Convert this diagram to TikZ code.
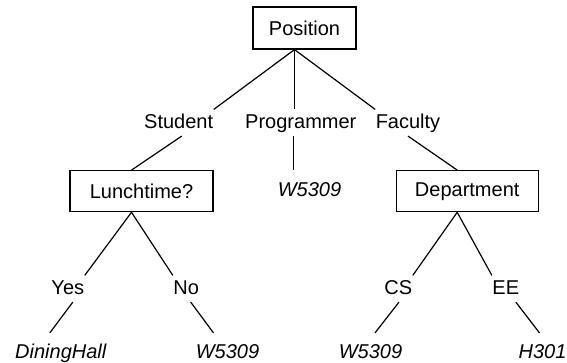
\documentclass[tikz,border=0pt]{standalone}
\usepackage{fontspec}
\setmainfont{Liberation Sans}
\begin{document}
\begin{tikzpicture}[x=1pt,y=-1pt,line width=1.2pt,font=\fontsize{20pt}{24pt}\selectfont,
  testbox/.style={draw,inner sep=0pt},
  branch/.style={anchor=base,inner xsep=0pt,inner ysep=3.5pt,text height=14.5pt,text depth=4pt},
  leaf/.style={branch,inner ysep=10.5pt,font=\fontsize{20pt}{24pt}\selectfont\itshape}]
  \useasboundingbox (0,0) rectangle (567,362);
  \node[testbox,minimum width=103pt,minimum height=42pt] (pos) at (304.5,28) {Position};
  \node[testbox,minimum width=143pt,minimum height=41pt] (lunch) at (141.5,191.2) {Lunchtime?};
  \node[testbox,minimum width=142pt,minimum height=41pt] (dept) at (467.2,191.2) {Department};
  \node[branch] (stu) at (178.7,128) {Student};
  \node[branch] (prog) at (300.8,128) {Programmer};
  \node[branch] (fac) at (408,128) {Faculty};
  \node[branch] (yes) at (67.8,294) {Yes};
  \node[branch] (no) at (186.2,294) {No};
  \node[branch] (cs) at (398.3,294) {CS};
  \node[branch] (ee) at (505.8,294) {EE};
  \node[leaf] (room1) at (309.5,196) {W5309};
  \node[leaf] (hall) at (60.8,358.5) {DiningHall};
  \node[leaf] (room2) at (227.5,358.5) {W5309};
  \node[leaf] (room3) at (370.5,358.5) {W5309};
  \node[leaf] (room4) at (542.5,358.5) {H301};
  \coordinate (posfoot) at ([xshift=-10pt]pos.south);
  \draw (posfoot) -- (stu.north east);
  \draw (posfoot) -- (posfoot |- prog.north);
  \draw (posfoot) -- (fac.north west);
  \draw ([xshift=-7.5pt]prog.south) -- ([xshift=-7.5pt]prog.south |- room1.north);
  \draw ([xshift=3pt]stu.south) -- ([xshift=-10pt]lunch.north);
  \draw (fac.south) -- ([xshift=-10pt]dept.north);
  \draw ([xshift=-10pt]lunch.south) -- (yes.north east);
  \draw ([xshift=-10pt]lunch.south) -- (no.north west);
  \draw ([xshift=-10pt]dept.south) -- (cs.north east);
  \draw ([xshift=-10pt]dept.south) -- (ee.north west);
  \draw ([xshift=5pt]yes.south) -- ([xshift=-11pt]hall.north);
  \draw ([xshift=4.5pt]no.south) -- ([xshift=-14pt]room2.north);
  \draw ([xshift=0.7pt]cs.south) -- ([xshift=4.5pt]room3.north);
  \draw ([xshift=10pt]ee.south) -- ([xshift=-3pt]room4.north);
\end{tikzpicture}
\end{document}
